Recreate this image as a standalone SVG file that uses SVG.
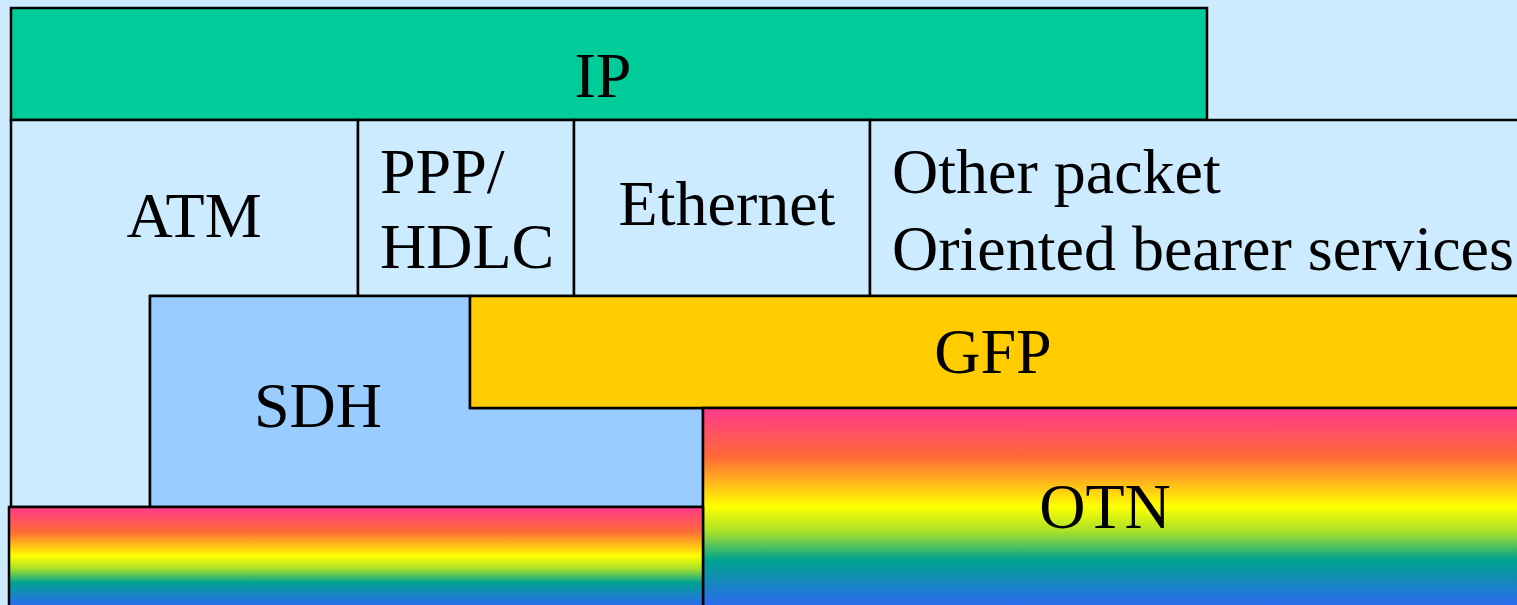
<svg xmlns="http://www.w3.org/2000/svg" width="1517" height="605" viewBox="0 0 1517 605">
  <defs>
    <!-- vertical spectrum fills, one per band so each spans its own visible height -->
    <linearGradient id="spectrumOtn" gradientUnits="userSpaceOnUse" x1="0" y1="408" x2="0" y2="605">
      <stop offset="0" stop-color="#FF3A8C"/>
      <stop offset="0.25" stop-color="#FF6A38"/>
      <stop offset="0.5" stop-color="#FFFF00"/>
      <stop offset="0.63" stop-color="#A6E02A"/>
      <stop offset="0.77" stop-color="#00A38E"/>
      <stop offset="1" stop-color="#2A6CEE"/>
    </linearGradient>
    <linearGradient id="spectrumFibre" gradientUnits="userSpaceOnUse" x1="0" y1="507" x2="0" y2="605">
      <stop offset="0" stop-color="#FF3A8C"/>
      <stop offset="0.25" stop-color="#FF6A38"/>
      <stop offset="0.5" stop-color="#FFFF00"/>
      <stop offset="0.63" stop-color="#A6E02A"/>
      <stop offset="0.77" stop-color="#00A38E"/>
      <stop offset="1" stop-color="#2A6CEE"/>
    </linearGradient>
    <style>
      .box { stroke: #000; stroke-width: 2.5; }
      .lbl { font-family: "Liberation Serif", "Times New Roman", serif; font-size: 64px; fill: #000; }
      .mid { text-anchor: middle; }
    </style>
  </defs>

  <!-- page background -->
  <rect x="0" y="0" width="1517" height="605" fill="#CCEBFF"/>

  <!-- IP layer -->
  <g id="ip">
    <rect class="box" x="11" y="8" width="1196" height="112" fill="#00CC99"/>
    <text class="lbl mid" x="603" y="97">IP</text>
  </g>

  <!-- ATM: L-shaped block reaching down to the fibre layer -->
  <g id="atm">
    <path class="box" d="M11 120 H358 V296 H150 V507 H11 Z" fill="#CCEBFF"/>
    <text class="lbl mid" x="194" y="237">ATM</text>
  </g>

  <g id="ppp">
    <rect class="box" x="358" y="120" width="216" height="176" fill="#CCEBFF"/>
    <text class="lbl" x="380" y="193">PPP/</text>
    <text class="lbl" x="380" y="268">HDLC</text>
  </g>

  <g id="ethernet">
    <rect class="box" x="574" y="120" width="296" height="176" fill="#CCEBFF"/>
    <text class="lbl mid" x="727" y="225">Ethernet</text>
  </g>

  <g id="other">
    <rect class="box" x="870" y="120" width="660" height="176" fill="#CCEBFF"/>
    <text class="lbl" x="892" y="193">Other packet</text>
    <text class="lbl" x="892" y="270">Oriented bearer services</text>
  </g>

  <!-- SDH: stepped block under GFP -->
  <g id="sdh">
    <path class="box" d="M150 296 H470 V408 H703 V507 H150 Z" fill="#99CCFF"/>
    <text class="lbl mid" x="318" y="427">SDH</text>
  </g>

  <g id="gfp">
    <rect class="box" x="470" y="296" width="1060" height="112" fill="#FFCC00"/>
    <text class="lbl mid" x="993" y="373">GFP</text>
  </g>

  <g id="otn">
    <rect class="box" x="703" y="408" width="830" height="210" fill="url(#spectrumOtn)"/>
    <text class="lbl mid" x="1105" y="528">OTN</text>
  </g>

  <!-- fibre layer under SDH -->
  <g id="fibre">
    <rect class="box" x="9" y="507" width="694" height="110" fill="url(#spectrumFibre)"/>
  </g>

  <g id="connectors"></g>
</svg>
